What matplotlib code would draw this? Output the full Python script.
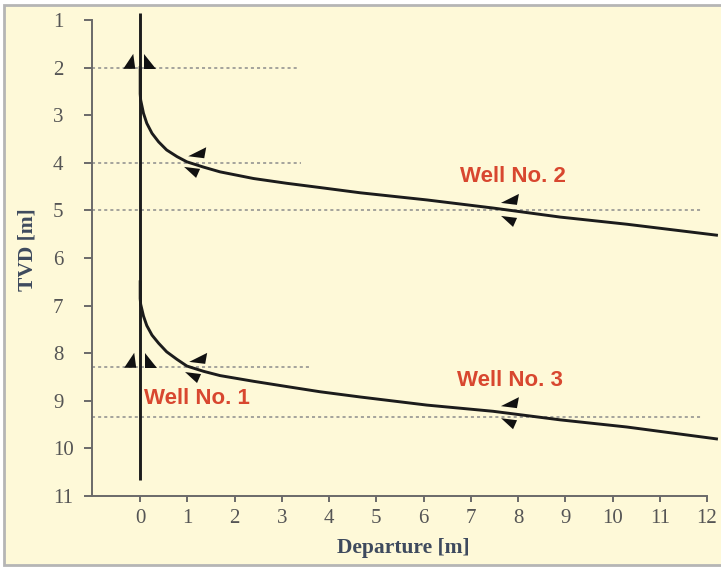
import numpy as np
import matplotlib.pyplot as plt
from matplotlib.patches import Polygon, Rectangle
from matplotlib.transforms import Affine2D, ScaledTranslation

# well trajectories (departure, TVD)
dep2 = [0, 0.0, 0.01, 0.07, 0.14, 0.25, 0.39, 0.56, 0.78, 0.99, 1.34, 1.69, 2.40, 3.10, 3.81, 4.66, 6.07, 7.47, 8.89, 10.3, 12.2]
tvd2 = [2.0, 2.55, 2.68, 2.96, 3.17, 3.38, 3.56, 3.73, 3.87, 3.98, 4.09, 4.19, 4.33, 4.43, 4.52, 4.63, 4.78, 4.95, 5.14, 5.29, 5.52]
dep3 = [0, 0.0, 0.01, 0.07, 0.14, 0.25, 0.39, 0.56, 0.78, 0.99, 1.34, 1.69, 2.40, 3.10, 3.81, 4.66, 6.07, 7.47, 8.89, 10.3, 12.2]
tvd3 = [6.5, 6.85, 6.97, 7.22, 7.42, 7.62, 7.79, 7.97, 8.13, 8.27, 8.38, 8.47, 8.59, 8.70, 8.81, 8.92, 9.09, 9.22, 9.40, 9.55, 9.80]
well1_top, well1_bottom = 0.85, 10.66

# dotted reference depths and how far they run
ref_depth = [2.0, 4.0, 5.0, 8.3, 9.33]
ref_end = [3.35, 3.4, 11.9, 3.6, 11.9]

labels = ["Well No. 1", "Well No. 2", "Well No. 3"]
label_x = [1.2, 7.9, 7.83]
label_y = [8.96, 4.28, 8.58]

xticks = list(range(0, 13))
yticks = list(range(1, 12))

# little arrowhead markers: (x, y, shape)
marks = [(-0.21, 1.90, "L"), (0.19, 1.90, "R"),
         (-0.19, 8.18, "L"), (0.21, 8.18, "R"),
         (1.25, 3.82, "U"), (1.12, 4.17, "D"),
         (7.87, 4.80, "U"), (7.83, 5.20, "D"),
         (1.27, 8.14, "U"), (1.14, 8.48, "D"),
         (7.87, 9.07, "U"), (7.83, 9.45, "D")]
shapes = {"L": [(-7, 6), (3, -9), (5, 6)],
          "R": [(-5, -9), (-5, 6), (7, 6)],
          "U": [(-11, 2), (7, -7), (5, 4)],
          "D": [(-9, -4), (7, -2), (3, 7)]}

bg = "#fef9d8"
red = "#d8472f"
axcol = "#6a6a6a"
labcol = "#3e4a5e"

fig = plt.figure(figsize=(7.21, 5.67), dpi=100)
fig.patch.set_facecolor("white")
fig.patches.append(Rectangle((4 / 721, 2 / 567), 730 / 721, 560 / 567, transform=fig.transFigure,
                             facecolor=bg, edgecolor="#b5b5b5", linewidth=2, zorder=-10))

ax = fig.add_axes([0.1276, 0.1252, 0.8694, 0.8605])
ax.set_facecolor("none")
ax.set_xlim(-1.02, 12.25)
ax.set_ylim(11, 0.75)

for d, e in zip(ref_depth, ref_end):
    ax.plot([-1.02, e], [d, d], color="#8c8c8c", lw=1.1, ls=(0, (2, 2)), zorder=1)

ax.plot([0, 0], [well1_top, well1_bottom], color="#1c1c1c", lw=2.1, solid_capstyle="butt", zorder=3)
ax.plot(dep2, tvd2, color="#1c1c1c", lw=2.1, clip_on=False, zorder=3)
ax.plot(dep3, tvd3, color="#1c1c1c", lw=2.1, clip_on=False, zorder=3)

for x, y, s in marks:
    tr = Affine2D().scale(1, -1) + ScaledTranslation(x, y, ax.transData)
    ax.add_patch(Polygon(shapes[s], closed=True, transform=tr, facecolor="#111111",
                         edgecolor="none", zorder=4, clip_on=False))

for t, x, y in zip(labels, label_x, label_y):
    ax.text(x, y, t, color=red, fontsize=16, fontweight="bold", family="Liberation Sans",
            ha="center", va="center", zorder=5)

for s in ["top", "right"]:
    ax.spines[s].set_visible(False)
for s in ["left", "bottom"]:
    ax.spines[s].set_color(axcol)
    ax.spines[s].set_linewidth(1.4)
ax.spines["left"].set_bounds(1, 11)
ax.spines["bottom"].set_bounds(-1.02, 12)

ax.set_xticks(xticks)
ax.set_yticks(yticks)
ax.tick_params(axis="x", direction="out", length=4, width=1.4, color=axcol, pad=5,
               labelsize=15, labelcolor="#555555")
ax.tick_params(axis="y", direction="out", length=6, width=1.4, color=axcol, pad=22,
               labelsize=15, labelcolor="#555555")
for lab in ax.get_xticklabels() + ax.get_yticklabels():
    lab.set_family("Liberation Serif")
for lab in ax.get_yticklabels():
    lab.set_horizontalalignment("left")

ax.set_xlabel("Departure [m]", fontsize=15.5, fontweight="bold", family="Liberation Serif",
              color=labcol)
ax.set_ylabel("TVD [m]", fontsize=15.5, fontweight="bold", family="Liberation Serif",
              color=labcol)
ax.xaxis.set_label_coords(0.496, -0.086)
ax.yaxis.set_label_coords(-0.087, 0.505)

fig.savefig("out.png", dpi=100, facecolor=fig.get_facecolor())
